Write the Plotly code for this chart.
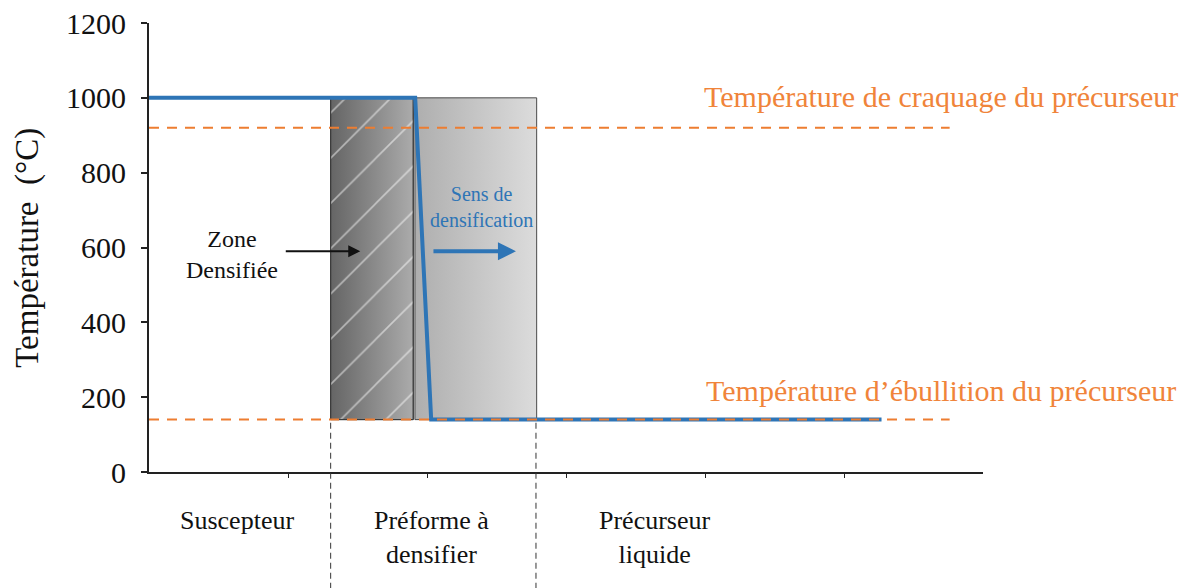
import plotly.graph_objects as go

# ---------------- data ----------------
y_ticks = [0, 200, 400, 600, 800, 1000, 1200]
x_ticks = [1, 2, 3, 4, 5]
categories = ["Suscepteur", "Préforme à<br>densifier", "Précurseur<br>liquide"]
category_x = [0.63, 2.03, 3.64]

profile_x = [0.0, 1.915, 2.03, 5.27]
profile_T = [1000, 1000, 140, 140]

T_crack = 920
T_boil = 140
T_top = 1000
threshold_x = [0.0, 5.76]

densified_zone = [1.307, 1.901]
remaining_zone = [1.913, 2.789]
boundaries_x = [1.307, 2.784]

label_crack = "Température de craquage du précurseur"
label_boil = "Température d\u2019ébullition du précurseur"

SERIF = "Liberation Serif, Times New Roman, serif"
BLUE = "#2E75B6"
ORANGE = "#ED7D31"
ORANGE_TXT = "#F0843A"

fig = go.Figure()

# densified zone (gradient + hatch)
x0, x1 = densified_zone
fig.add_trace(go.Scatter(
    x=[x0, x1, x1, x0, x0], y=[T_boil, T_boil, T_top, T_top, T_boil],
    mode="lines", fill="toself",
    fillgradient=dict(type="horizontal", colorscale=[[0, "#656565"], [1, "#ababab"]]),
    line=dict(color="#3a3a3a", width=1), hoverinfo="skip", showlegend=False))
fig.add_trace(go.Scatter(
    x=[x0, x1, x1, x0, x0], y=[T_boil, T_boil, T_top, T_top, T_boil],
    mode="lines", fill="toself", fillcolor="rgba(0,0,0,0)",
    fillpattern=dict(shape="/", fgcolor="white", bgcolor="rgba(0,0,0,0)", size=32, solidity=0.05),
    line=dict(color="#3a3a3a", width=1), hoverinfo="skip", showlegend=False))

# remaining preform
x0, x1 = remaining_zone
fig.add_trace(go.Scatter(
    x=[x0, x1, x1, x0, x0], y=[T_boil, T_boil, T_top, T_top, T_boil],
    mode="lines", fill="toself",
    fillgradient=dict(type="horizontal", colorscale=[[0, "#aeaeae"], [1, "#dcdcdc"]]),
    line=dict(color="#4a4a4a", width=1), hoverinfo="skip", showlegend=False))

# temperature profile
fig.add_trace(go.Scatter(x=profile_x, y=profile_T, mode="lines",
                         line=dict(color=BLUE, width=4), hoverinfo="skip", showlegend=False))

# threshold lines
for T in (T_crack, T_boil):
    fig.add_trace(go.Scatter(x=threshold_x, y=[T, T], mode="lines",
                             line=dict(color=ORANGE, width=2, dash="10px,8px"),
                             hoverinfo="skip", showlegend=False))

# vertical boundary dashed lines
for bx in boundaries_x:
    fig.add_shape(type="line", xref="x", yref="paper", x0=bx, x1=bx,
                  y0=-0.26, y1=T_boil / 1200,
                  line=dict(color="#333333", width=1, dash="6px,4px"))

# category labels
for cx, lab in zip(category_x, categories):
    fig.add_annotation(x=cx, y=-0.072, xref="x", yref="paper", text=lab,
                       showarrow=False, yanchor="top", align="center",
                       font=dict(family=SERIF, size=26, color="#111111"))

# threshold labels
fig.add_annotation(x=5.7, y=1003, xref="x", yref="y", text=label_crack,
                   showarrow=False, yanchor="middle", xanchor="center",
                   font=dict(family=SERIF, size=30, color=ORANGE_TXT))
fig.add_annotation(x=5.7, y=218, xref="x", yref="y", text=label_boil,
                   showarrow=False, yanchor="middle", xanchor="center",
                   font=dict(family=SERIF, size=30, color=ORANGE_TXT))

# zone densifiee
fig.add_annotation(x=0.6, y=580, xref="x", yref="y", text="Zone<br>Densifiée",
                   showarrow=False, font=dict(family=SERIF, size=24, color="#111111"))
fig.add_annotation(x=1.52, y=590, xref="x", yref="y", ax=-76, ay=0, text="",
                   showarrow=True, arrowhead=2, arrowsize=1.2, arrowwidth=2, arrowcolor="#111111")

# sens de densification
fig.add_annotation(x=2.39, y=708, xref="x", yref="y", text="Sens de<br>densification",
                   showarrow=False, font=dict(family=SERIF, size=20, color=BLUE))
fig.add_annotation(x=2.64, y=590, xref="x", yref="y", ax=-84, ay=0, text="",
                   showarrow=True, arrowhead=2, arrowsize=0.9, arrowwidth=4, arrowcolor=BLUE)

# y-axis title
fig.add_annotation(x=-0.146, y=0.5, xref="paper", yref="paper", text="Température  (°C)",
                   textangle=-90, showarrow=False, xanchor="center", yanchor="middle",
                   font=dict(family=SERIF, size=33, color="#111111"))

fig.update_layout(
    width=1189, height=588,
    margin=dict(l=149, r=206, t=23, b=116, autoexpand=False),
    plot_bgcolor="white", paper_bgcolor="white",
    xaxis=dict(range=[0, 6], tickvals=x_ticks, showticklabels=False, ticks="outside",
               ticklen=4, tickcolor="#222222", showgrid=False, zeroline=False,
               showline=True, linecolor="#222222", linewidth=2, automargin=False),
    yaxis=dict(range=[0, 1200], tickvals=y_ticks, ticks="outside", ticklen=6,
               tickwidth=2, tickcolor="#222222", showgrid=False, zeroline=False,
               showline=True, linecolor="#222222", linewidth=2, automargin=False,
               ticklabelstandoff=9,
               tickfont=dict(family=SERIF, size=30, color="#111111")),
)

# remove the default 8px page margin so the figure sits at the window's top-left corner
fig.write_html("out.html", config={"displayModeBar": False},
               post_script="document.body.style.margin='0';")
